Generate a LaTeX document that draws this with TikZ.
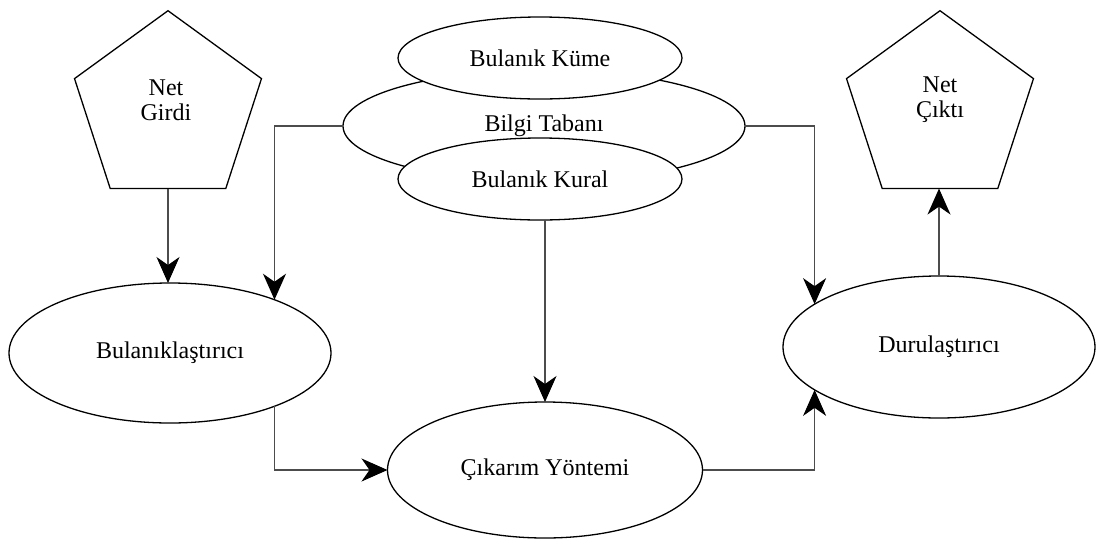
\documentclass[tikz,border=0pt]{standalone}
\usepackage{fontspec}
\setmainfont{Liberation Serif}
\usetikzlibrary{shapes.geometric,arrows.meta}
\begin{document}
\begin{tikzpicture}[x=1pt,y=-1pt,
  every node/.style={font=\fontsize{24}{25}\selectfont, inner sep=0pt, outer sep=0pt},
  oval/.style={ellipse, draw=black, line width=1.3pt, fill=white},
  penta/.style={regular polygon, regular polygon sides=5, minimum size=196.6pt, draw=black, line width=1.3pt},
  link/.style={draw=black!70, line width=1.1pt},
  arr/.style={link, -{Stealth[length=26pt,width=23pt,inset=8pt,color=black]}}
]
\useasboundingbox (0,0) rectangle (1096,539);

% knowledge base with its two parts
\node[oval, minimum width=402pt, minimum height=112pt] (bilgi) at (544,126) {};
\node at (544,126) {Bilgi Tabanı};
\node[oval, minimum width=284pt, minimum height=82pt] (kume) at (540,58) {Bulanık Küme};
\node[oval, minimum width=284pt, minimum height=82pt] (kural) at (540,179) {Bulanık Kural};

% inputs and outputs
\node[penta] (girdi) at (168,109) {};
\node[align=center] at (166,100) {Net\\Girdi};
\node[penta] (cikti) at (940,109) {};
\node[align=center] at (940,100) {Net\\Çıktı};

% processing stages
\node[oval, minimum width=322pt, minimum height=140pt] (bulan) at (170,353) {Bulanıklaştırıcı};
\node[oval, minimum width=315pt, minimum height=136pt] (cikarim) at (545,470) {Çıkarım Yöntemi};
\node[oval, minimum width=312pt, minimum height=142pt] (durul) at (939,347) {Durulaştırıcı};

% connectors
\draw[arr] (girdi.south) -- (girdi.south |- bulan.north);
\draw[arr] (bilgi.west) -| (bulan.27.6);
\draw[arr] (bulan.-27.6) |- (cikarim.west);
\draw[arr] (kural.south -| cikarim.north) -- (cikarim.north);
\draw[arr] (bilgi.east) -| (durul.161.65);
\draw[arr] (cikarim.east) -| (durul.-161.65);
\draw[arr] (durul.north) -- (durul.north |- cikti.south);
\end{tikzpicture}
\end{document}
